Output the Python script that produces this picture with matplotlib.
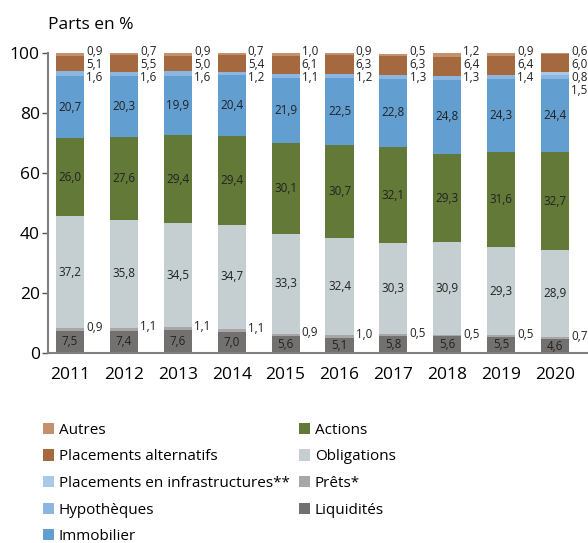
import matplotlib
matplotlib.use('Agg')
from matplotlib import pyplot as plt
from matplotlib.patches import Patch
import numpy as np

plt.rcParams['font.family'] = ['Open Sans', 'DejaVu Sans']

years = ['2011', '2012', '2013', '2014', '2015', '2016', '2017', '2018', '2019', '2020']
liquidites = [7.5, 7.4, 7.6, 7.0, 5.6, 5.1, 5.8, 5.6, 5.5, 4.6]
prets = [0.9, 1.1, 1.1, 1.1, 0.9, 1.0, 0.5, 0.5, 0.5, 0.7]
obligations = [37.2, 35.8, 34.5, 34.7, 33.3, 32.4, 30.3, 30.9, 29.3, 28.9]
actions = [26.0, 27.6, 29.4, 29.4, 30.1, 30.7, 32.1, 29.3, 31.6, 32.7]
immobilier = [20.7, 20.3, 19.9, 20.4, 21.9, 22.5, 22.8, 24.8, 24.3, 24.4]
hypotheques = [1.6, 1.6, 1.6, 1.2, 1.1, 1.2, 1.3, 1.3, 1.4, 1.5]
infra = [0, 0, 0, 0, 0, 0, 0, 0, 0, 0.8]
alternatifs = [5.1, 5.5, 5.0, 5.4, 6.1, 6.3, 6.3, 6.4, 6.4, 6.0]
autres = [0.9, 0.7, 0.9, 0.7, 1.0, 0.9, 0.5, 1.2, 0.9, 0.6]

# ordre d'empilement (du bas vers le haut)
series = [
    ('Liquidités', liquidites, '#727170'),
    ('Prêts*', prets, '#a8a6a6'),
    ('Obligations', obligations, '#c5ced1'),
    ('Actions', actions, '#627937'),
    ('Immobilier', immobilier, '#629fd0'),
    ('Hypothèques', hypotheques, '#8ab6e1'),
    ('Placements en infrastructures**', infra, '#aac9e9'),
    ('Placements alternatifs', alternatifs, '#a5693f'),
    ('Autres', autres, '#c4906e'),
]

fig = plt.figure(figsize=(5.88, 5.43), dpi=100)
ax = fig.add_axes([48 / 588, 190 / 543, 540 / 588, 300 / 543])

x = np.arange(len(years))
w = 0.52
bottom = np.zeros(len(years))
for name, vals, col in series:
    vals = np.array(vals)
    ax.bar(x, vals, w, bottom=bottom, color=col, label=name, linewidth=0)
    bottom = bottom + vals

def fmt(v):
    return ('%.1f' % v).replace('.', ',')

lab_kw = dict(fontsize=8.4, color='#222222')
# labels à l'intérieur des barres
stack = np.zeros(len(years))
for name, vals, col in series:
    vals = np.array(vals)
    for i in range(len(years)):
        if name in ('Liquidités', 'Obligations', 'Actions', 'Immobilier'):
            ax.text(x[i], stack[i] + vals[i] / 2, fmt(vals[i]), ha='center', va='center', **lab_kw)
        elif name == 'Prêts*':
            ax.text(x[i] + w / 2 + 0.04, stack[i] + vals[i] + 0.2, fmt(vals[i]), ha='left', va='center', **lab_kw)
    stack = stack + vals

# labels à droite en haut (autres, alternatifs, infra, hypothèques)
for i in range(len(years)):
    top_vals = [autres[i], alternatifs[i]]
    if infra[i] > 0:
        top_vals.append(infra[i])
    top_vals.append(hypotheques[i])
    for k, v in enumerate(top_vals):
        ax.text(x[i] + w / 2 + 0.04, 100.4 - k * 4.25, fmt(v), ha='left', va='center',
                clip_on=False, **lab_kw)

ax.set_xlim(-0.408, 9.61)
ax.set_ylim(0, 100)
ax.set_xticks(x)
ax.set_xticklabels(years)
ax.set_yticks([0, 20, 40, 60, 80, 100])
ax.tick_params(axis='y', length=4, width=1, color='#555555', labelsize=12.5, pad=2)
ax.tick_params(axis='x', length=0, labelsize=12.5, pad=10)
for s in ['top', 'right']:
    ax.spines[s].set_visible(False)
ax.spines['left'].set_color('#808080')
ax.spines['left'].set_linewidth(1.5)
ax.spines['bottom'].set_color('#808080')
ax.spines['bottom'].set_linewidth(1.5)

fig.text(48 / 588, 1 - 25 / 543, 'Parts en %', fontsize=12.5, ha='left', va='center')

leg_order = ['Autres', 'Placements alternatifs', 'Placements en infrastructures**', 'Hypothèques',
             'Immobilier', 'Actions', 'Obligations', 'Prêts*', 'Liquidités']
colors = {n: c for n, v, c in series}
handles = [Patch(facecolor=colors[n], edgecolor='none', label=n) for n in leg_order]
fig.legend(handles=handles, ncol=2, loc='upper left', bbox_to_anchor=(32 / 588, 1 - 412 / 543),
           frameon=False, fontsize=11, handlelength=0.75, handleheight=0.75, handletextpad=0.3,
           labelspacing=0.76, columnspacing=0.6, borderpad=0.2)

fig.savefig('out.png', dpi=100)
